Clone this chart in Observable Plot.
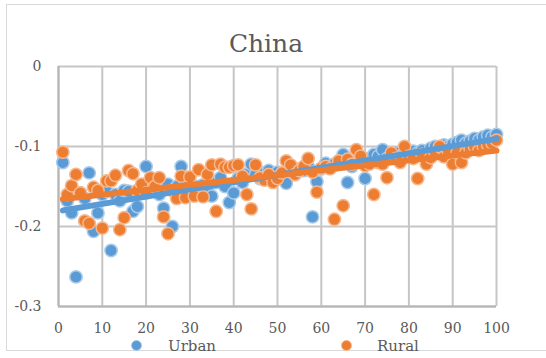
<!DOCTYPE html>
<html>
<head>
<meta charset="utf-8">
<script src="https://cdn.jsdelivr.net/npm/d3@7"></script>
<script src="https://cdn.jsdelivr.net/npm/@observablehq/plot@0.6"></script>
<style>
  html, body { margin: 0; padding: 0; background: #fff; overflow: hidden; }
  #wrap { position: relative; width: 546px; height: 358px; overflow: hidden; font-family: "DejaVu Serif", serif; color: #595959; }
  #frame { position: absolute; left: 6px; top: 4px; width: 600px; height: 347px; border: 1px solid #d9d9d9; box-sizing: border-box; }
  #title { position: absolute; left: 0; width: 532px; top: 31px; text-align: center; font-size: 25px; line-height: 25px; }
  #chart { position: absolute; left: 0; top: 58px; }
  #legend { position: absolute; left: 0; top: 339px; width: 546px; height: 19px; font-size: 15px; line-height: 15px; }
  .item { position: absolute; top: 0; }
  .sw { position: absolute; width: 11px; height: 11px; border-radius: 50%; box-sizing: border-box; }
</style>
</head>
<body>
<div id="wrap">
  <div id="frame"></div>
  <div id="title"></div>
  <div id="chart"></div>
  <div id="legend"></div>
</div>
<script>
const title = "China";
const seriesNames = ["Urban", "Rural"];
const seriesColors = ["#5B9BD5", "#ED7D31"];
const seriesOutlines = ["#A9CBEA", "#F6B88F"];
const xTicks = [0, 10, 20, 30, 40, 50, 60, 70, 80, 90, 100];
const yTicks = [0, -0.1, -0.2, -0.3];

const urban = [
  -0.120, -0.168, -0.183, -0.263, -0.158, -0.165, -0.133, -0.206, -0.183, -0.160,
  -0.156, -0.230, -0.160, -0.168, -0.155, -0.156, -0.181, -0.175, -0.156, -0.125,
  -0.154, -0.150, -0.160, -0.177, -0.147, -0.200, -0.150, -0.125, -0.146, -0.145,
  -0.155, -0.150, -0.148, -0.155, -0.162, -0.145, -0.139, -0.150, -0.170, -0.158,
  -0.140, -0.145, -0.135, -0.122, -0.135, -0.140, -0.133, -0.130, -0.138, -0.132,
  -0.135, -0.146, -0.130, -0.135, -0.128, -0.130, -0.125, -0.188, -0.144, -0.128,
  -0.121, -0.125, -0.122, -0.118, -0.110, -0.145, -0.125, -0.118, -0.120, -0.140,
  -0.115, -0.110, -0.112, -0.104, -0.115, -0.112, -0.108, -0.112, -0.110, -0.112,
  -0.106, -0.108, -0.105, -0.110, -0.102, -0.100, -0.104, -0.098, -0.100, -0.097,
  -0.095, -0.092, -0.096, -0.093, -0.090, -0.092, -0.088, -0.086, -0.088, -0.085
];
const rural = [
  -0.107, -0.160, -0.149, -0.135, -0.158, -0.193, -0.196, -0.151, -0.155, -0.202,
  -0.143, -0.143, -0.136, -0.204, -0.189, -0.130, -0.134, -0.155, -0.147, -0.158,
  -0.139, -0.150, -0.139, -0.188, -0.209, -0.155, -0.165, -0.137, -0.164, -0.138,
  -0.162, -0.129, -0.163, -0.135, -0.123, -0.181, -0.122, -0.126, -0.126, -0.124,
  -0.123, -0.137, -0.160, -0.178, -0.123, -0.139, -0.142, -0.135, -0.145, -0.140,
  -0.133, -0.118, -0.123, -0.135, -0.130, -0.125, -0.115, -0.132, -0.157, -0.127,
  -0.125, -0.128, -0.191, -0.118, -0.174, -0.116, -0.122, -0.104, -0.112, -0.124,
  -0.122, -0.160, -0.120, -0.122, -0.139, -0.108, -0.115, -0.120, -0.100, -0.112,
  -0.115, -0.140, -0.110, -0.122, -0.114, -0.108, -0.100, -0.113, -0.106, -0.122,
  -0.108, -0.120, -0.108, -0.103, -0.100, -0.105, -0.100, -0.098, -0.096, -0.092
];

const urbanRows = urban.map((v, i) => ({x: i + 1, y: v}));
const ruralRows = rural.map((v, i) => ({x: i + 1, y: v}));

document.getElementById("title").textContent = title;

const chart = Plot.plot({
  width: 546,
  height: 279,
  marginTop: 8,
  marginBottom: 31,
  marginLeft: 58,
  marginRight: 50,
  style: {fontFamily: "DejaVu Serif", fontSize: "14px", color: "#595959", background: "transparent"},
  x: {domain: [0, 100], ticks: xTicks, tickSize: 0, tickPadding: 17, label: null},
  y: {domain: [-0.3, 0], ticks: yTicks, tickSize: 0, tickPadding: 17, label: null, tickFormat: d => String(d)},
  marks: [
    Plot.ruleX(xTicks, {stroke: "#c6c6c6", strokeWidth: 2}),
    Plot.ruleY(yTicks, {stroke: "#c6c6c6", strokeWidth: 2}),
    Plot.ruleX([0], {stroke: "#b5b5b5", strokeWidth: 2}),
    Plot.ruleY([-0.3], {stroke: "#b5b5b5", strokeWidth: 2}),
    Plot.dot(urbanRows, {x: "x", y: "y", r: 6.2, fill: seriesColors[0], stroke: seriesOutlines[0], strokeWidth: 1.5}),
    Plot.dot(ruralRows, {x: "x", y: "y", r: 6.2, fill: seriesColors[1], stroke: seriesOutlines[1], strokeWidth: 1.5}),
    Plot.linearRegressionY(urbanRows, {x: "x", y: "y", stroke: seriesColors[0], strokeWidth: 6, ci: 0}),
    Plot.linearRegressionY(ruralRows, {x: "x", y: "y", stroke: seriesColors[1], strokeWidth: 6, ci: 0})
  ]
});
document.getElementById("chart").appendChild(chart);

const legend = document.getElementById("legend");
const swatchX = [131, 341];
const textX = [168, 377];
seriesNames.forEach((name, i) => {
  const sw = document.createElement("div");
  sw.className = "sw";
  sw.style.left = swatchX[i] + "px";
  sw.style.top = "1px";
  sw.style.background = seriesColors[i];
  sw.style.border = "1.5px solid " + seriesOutlines[i];
  legend.appendChild(sw);
  const t = document.createElement("div");
  t.className = "item";
  t.style.left = textX[i] + "px";
  t.textContent = name;
  legend.appendChild(t);
});
</script>
</body>
</html>
